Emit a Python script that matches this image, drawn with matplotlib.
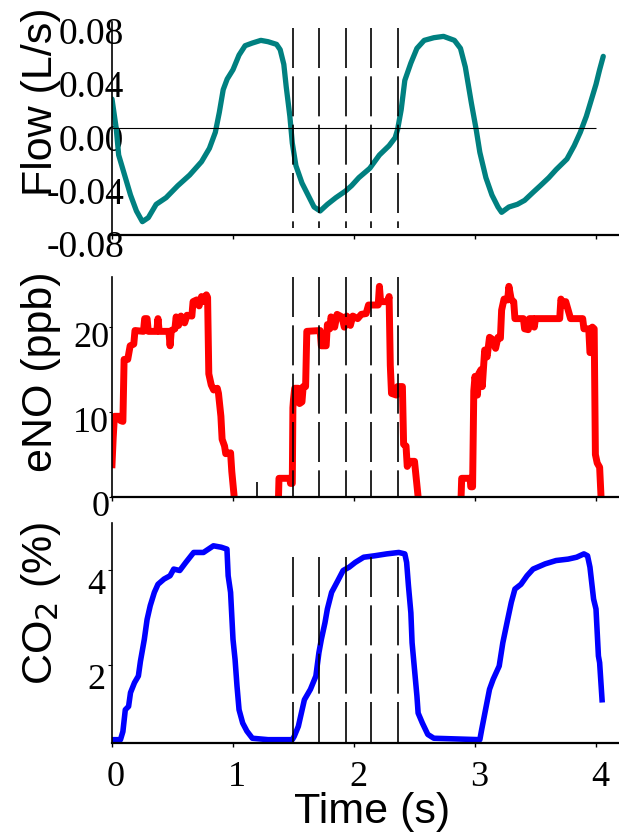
import numpy as np
import matplotlib.pyplot as plt
from matplotlib.transforms import ScaledTranslation

# ---- data ----
flow_t = [0.00, 0.035, 0.055, 0.104, 0.153, 0.202, 0.251, 0.30, 0.365, 0.447,
          0.544, 0.642, 0.74, 0.805, 0.854, 0.887, 0.919, 0.952, 1.00, 1.05,
          1.10, 1.16, 1.23, 1.29, 1.36, 1.39, 1.42, 1.44, 1.47, 1.49,
          1.52, 1.57, 1.62, 1.67, 1.72, 1.78, 1.85, 1.93, 1.98, 2.04,
          2.13, 2.21, 2.29, 2.34, 2.36, 2.39, 2.42, 2.47, 2.52, 2.58,
          2.66, 2.74, 2.83, 2.88, 2.92, 2.97, 3.01, 3.04, 3.09, 3.14,
          3.19, 3.22, 3.28, 3.35, 3.41, 3.48, 3.54, 3.61, 3.67, 3.76,
          3.82, 3.87, 3.92, 3.97, 4.00, 4.03, 4.06]
flow_v = [0.022, 0.000, -0.020, -0.035, -0.050, -0.062, -0.070, -0.067, -0.057, -0.052,
          -0.043, -0.035, -0.025, -0.015, -0.003, 0.012, 0.029, 0.037, 0.044, 0.055,
          0.062, 0.064, 0.066, 0.065, 0.063, 0.059, 0.048, 0.031, 0.009, -0.011,
          -0.028, -0.041, -0.050, -0.059, -0.062, -0.057, -0.052, -0.047, -0.043, -0.037,
          -0.030, -0.020, -0.013, -0.007, -0.001, 0.014, 0.036, 0.049, 0.060, 0.066,
          0.068, 0.069, 0.066, 0.060, 0.046, 0.019, -0.001, -0.018, -0.037, -0.050,
          -0.059, -0.063, -0.059, -0.057, -0.054, -0.048, -0.043, -0.037, -0.031, -0.023,
          -0.013, -0.003, 0.009, 0.024, 0.033, 0.044, 0.054]

# eNO, nan = gap where the trace sits on the axis
eno_t = [0.00, 0.01, 0.02, 0.06, 0.07, 0.09, 0.10, 0.13, 0.15, 0.18,
         0.19, 0.26, 0.27, 0.29, 0.30, 0.37, 0.38, 0.39, 0.47, 0.48,
         0.49, 0.52, 0.53, 0.55, 0.57, 0.60, 0.62, 0.66, 0.67, 0.70,
         0.72, 0.74, 0.76, 0.78, 0.79, 0.80, 0.82, 0.84, 0.87, 0.88,
         0.90, 0.91, 0.93, 0.94, 0.98, 0.99, 1.01, np.nan,
         1.376, 1.38, 1.47, 1.475, 1.49, 1.495, 1.50, 1.51, 1.54, 1.55,
         1.57, 1.58, 1.60, 1.61, 1.72, 1.73, 1.77, 1.78, 1.80, 1.81,
         1.84, 1.86, 1.90, 1.92, 1.94, 1.97, 1.99, 2.03, 2.06, 2.10,
         2.12, 2.20, 2.21, 2.22, 2.28, 2.29, 2.30, 2.31, 2.35, 2.36,
         2.40, 2.41, 2.43, 2.44, 2.46, 2.50, 2.53, np.nan,
         2.885, 2.89, 2.96, 2.965, 2.98, 2.99, 3.00, 3.02, 3.03, 3.05,
         3.06, 3.08, 3.10, 3.12, 3.14, 3.17, 3.19, 3.21, 3.22, 3.24,
         3.27, 3.28, 3.30, 3.32, 3.33, 3.40, 3.41, 3.44, 3.45, 3.48,
         3.49, 3.50, 3.70, 3.71, 3.73, 3.75, 3.77, 3.79, 3.89, 3.90,
         3.94, 3.95, 3.96, 3.97, 3.985, 3.995, 4.01, 4.03, 4.04]
eno_v = [3.8, 7.0, 9.5, 9.5, 9.0, 8.9, 16.2, 16.2, 17.8, 18.0,
         19.6, 19.5, 21.0, 21.0, 19.5, 19.5, 21.0, 19.5, 19.5, 17.8,
         19.6, 19.8, 21.2, 20.2, 21.3, 20.5, 21.4, 21.3, 23.0, 23.2,
         22.5, 23.6, 23.0, 23.8, 23.5, 14.5, 13.2, 12.6, 12.8, 12.2,
         9.5, 6.8, 6.0, 5.1, 5.2, 3.0, 0.0, np.nan,
         0.0, 2.2, 2.2, 1.6, 1.6, 10.5, 11.5, 12.8, 12.8, 11.0,
         11.2, 13.0, 13.0, 19.5, 19.6, 17.8, 17.8, 20.3, 19.8, 21.2,
         20.0, 21.5, 21.2, 20.0, 21.3, 20.2, 21.3, 21.0, 21.5, 21.6,
         22.6, 22.6, 24.8, 23.0, 23.0, 23.6, 15.5, 12.2, 12.0, 13.0,
         13.0, 6.2, 6.0, 3.6, 4.2, 4.2, 0.0, np.nan,
         0.0, 2.2, 2.2, 1.2, 1.2, 12.5, 14.2, 12.0, 14.5, 15.0,
         13.0, 17.3, 16.5, 18.8, 18.6, 17.5, 18.8, 18.7, 22.0, 23.3,
         23.2, 24.8, 23.2, 23.0, 21.0, 21.0, 19.8, 19.7, 21.0, 21.0,
         20.0, 21.0, 21.0, 23.3, 22.6, 23.0, 22.0, 21.0, 21.0, 19.8,
         19.8, 17.0, 17.0, 20.0, 19.8, 5.0, 4.0, 3.5, 0.5]
eno_spike_t = 1.196
eno_spike_h = 1.8

co2_t = [0.00, 0.07, 0.09, 0.11, 0.137, 0.153, 0.186, 0.218, 0.235, 0.267,
         0.29, 0.316, 0.35, 0.38, 0.43, 0.48, 0.51, 0.56, 0.61, 0.675,
         0.756, 0.838, 0.903, 0.95, 0.96, 0.98, 1.00, 1.017, 1.033, 1.05,
         1.08, 1.115, 1.16, 1.29, 1.49, 1.506, 1.54, 1.59, 1.64, 1.685,
         1.71, 1.73, 1.76, 1.78, 1.815, 1.865, 1.91, 1.96, 2.01, 2.08,
         2.17, 2.27, 2.37, 2.42, 2.435, 2.45, 2.47, 2.48, 2.50, 2.52,
         2.53, 2.565, 2.61, 2.66, 3.04, 3.055, 3.087, 3.12, 3.15, 3.20,
         3.23, 3.27, 3.30, 3.33, 3.38, 3.43, 3.48, 3.58, 3.67, 3.77,
         3.84, 3.90, 3.93, 3.95, 3.98, 4.00, 4.02, 4.03, 4.05]
co2_v = [0.43, 0.43, 0.60, 1.06, 1.13, 1.42, 1.63, 1.77, 2.08, 2.54,
         2.96, 3.25, 3.53, 3.70, 3.81, 3.88, 4.02, 3.99, 4.16, 4.37,
         4.37, 4.51, 4.48, 4.44, 3.88, 3.53, 2.54, 2.12, 1.56, 1.06,
         0.78, 0.61, 0.46, 0.43, 0.43, 0.50, 0.71, 1.27, 1.49, 1.77,
         2.26, 2.54, 2.89, 3.18, 3.53, 3.77, 3.99, 4.06, 4.16, 4.27,
         4.30, 4.34, 4.37, 4.34, 4.16, 3.67, 3.10, 2.47, 1.91, 1.35,
         0.99, 0.78, 0.54, 0.46, 0.43, 0.64, 1.06, 1.49, 1.70, 1.98,
         2.47, 2.96, 3.32, 3.60, 3.70, 3.88, 4.02, 4.13, 4.20, 4.23,
         4.27, 4.34, 4.30, 4.06, 3.39, 3.18, 2.19, 2.05, 1.27]

dash_t = [1.496, 1.711, 1.93, 2.14, 2.36]
x_ticks = [0, 1, 2, 3, 4]
flow_ticks = [-0.08, -0.04, 0.00, 0.04, 0.08]
eno_ticks = [0, 10, 20]
co2_ticks = [2, 4]

serif = 'Liberation Serif'
sans = 'Liberation Sans'
tick_fs = 26
label_fs = 31

fig = plt.figure(figsize=(6.19, 8.35), dpi=100)
W, H = 619, 835


def add_ax(top, bottom):
    return fig.add_axes([112 / W, 1 - bottom / H, (W - 112) / W, (bottom - top) / H])


def shift(labels, dx, dy):
    for lab in labels:
        lab.set_transform(lab.get_transform() +
                          ScaledTranslation(dx / 100, dy / 100, fig.dpi_scale_trans))


def style(ax):
    for s in ['top', 'right']:
        ax.spines[s].set_visible(False)
    ax.spines['left'].set_linewidth(1.2)
    ax.spines['bottom'].set_linewidth(1.6)
    ax.set_xlim(0, (W - 112) / 121.0)
    ax.set_xticks(x_ticks)
    ax.tick_params(axis='x', direction='out', length=3, width=1)
    for lab in ax.get_xticklabels() + ax.get_yticklabels():
        lab.set_fontfamily(serif)
        lab.set_fontsize(tick_fs)


def ylabel(ax, text, ycen):
    ax.set_ylabel(text, fontfamily=sans, fontsize=label_fs)
    ax.yaxis.label.set_va('baseline')
    ax.yaxis.set_label_coords((52 - 112) / (W - 112), ycen)


dash_style = (0, (24, 5))

# ---- Flow ----
ax1 = add_ax(21.7, 235)
ax1.plot(flow_t, flow_v, color='#008080', lw=3.8, solid_capstyle='round')
ax1.hlines(0, x_ticks[0], x_ticks[-1], color='black', lw=0.8)
ax1.vlines(dash_t, 0.075, -0.075, color='black', lw=1.2, linestyles=[dash_style])
ax1.set_ylim(-0.08, 0.0761)
ax1.set_yticks(flow_ticks)
ax1.set_yticklabels(['%.2f' % v for v in flow_ticks])
style(ax1)
ax1.set_xticklabels([])
for lab in ax1.get_yticklabels():
    lab.set_fontsize(27)
ax1.tick_params(axis='y', length=0, pad=0)
shift(ax1.get_yticklabels(), 12, -9)
ylabel(ax1, 'Flow (L/s)', 0.624)

# ---- eNO ----
ax2 = add_ax(277, 497)
ax2.plot(eno_t, eno_v, color='#ff0000', lw=5)
ax2.vlines([eno_spike_t], 0, eno_spike_h, color='black', lw=1.2)
ax2.vlines(dash_t, 25.9, 0, color='black', lw=1.2, linestyles=[dash_style])
ax2.set_ylim(0, 25.9)
ax2.set_yticks(eno_ticks)
style(ax2)
ax2.set_xticklabels([])
ax2.tick_params(axis='y', direction='out', length=2, pad=0)
shift(ax2.get_yticklabels(), 0, -7)
ylabel(ax2, 'eNO (ppb)', 0.568)

# ---- CO2 ----
ax3 = add_ax(523, 743)
ax3.plot(co2_t, co2_v, color='#0000ff', lw=4)
ax3.vlines(dash_t, 4.28, 0.36, color='black', lw=1.2, linestyles=[dash_style])
ax3.set_ylim(0.36, 4.99)
ax3.set_yticks(co2_ticks)
style(ax3)
ax3.tick_params(axis='y', direction='out', length=3, pad=2)
ax3.tick_params(axis='x', pad=10)
shift(ax3.get_yticklabels(), 0, -11)
shift(ax3.get_xticklabels(), 4, 0)
ylabel(ax3, 'CO$_2$ (%)', 0.636)
ax3.set_xlabel('Time (s)', fontfamily=sans, fontsize=label_fs)
ax3.xaxis.set_label_coords(0.513, -0.225)

fig.savefig('out.png', dpi=100)
